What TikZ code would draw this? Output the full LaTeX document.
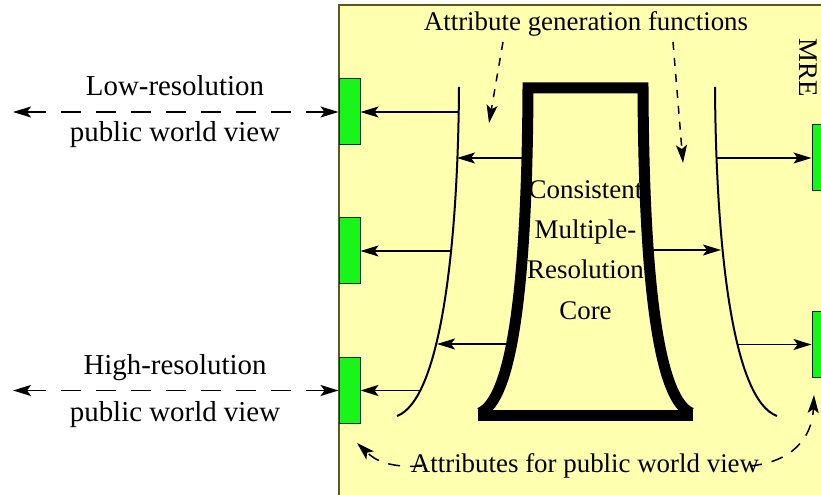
\documentclass[tikz,border=0pt]{standalone}
\usepackage{fontspec}
\setmainfont{Liberation Serif}
\usetikzlibrary{arrows.meta}
\definecolor{mrefill}{RGB}{255,255,176}
\definecolor{mreline}{RGB}{90,90,40}
\definecolor{viewgreen}{RGB}{25,245,25}
\tikzset{
  lbl/.style={font=\fontsize{13.5}{20.3}\selectfont,inner sep=0pt,anchor=base},
  viewlbl/.style={lbl,font=\fontsize{14.5}{17}\selectfont},
  tip/.style={-{Stealth[length=9bp,width=5.5bp,inset=2bp]}},
  viewarr/.style={line width=0.75bp,dash pattern=on 10bp off 7.5bp,
    {Stealth[length=9bp,width=5.5bp,inset=2bp]}-{Stealth[length=9bp,width=5.5bp,inset=2bp]}},
  genarr/.style={tip,line width=0.75bp,dash pattern=on 4bp off 4bp},
  attrarr/.style={tip,line width=0.75bp,dash pattern=on 6bp off 5bp}
}
\begin{document}
\begin{tikzpicture}[x=0.5bp,y=-0.5bp]
  \useasboundingbox (0,0) rectangle (821,495);
  \fill[mrefill,draw=mreline,line width=1bp] (339,5) rectangle (860,520);

  \begin{scope}[every node/.style={draw=black!80!green,fill=viewgreen,line width=0.5bp,
      minimum width=10.5bp,minimum height=33bp,inner sep=0pt}]
  \node (lo) at (349.5,112) {};
  \node (md) at (349.5,251) {};
  \node (hi) at (349.5,390.5) {};
  \node (rlo) at (822.5,158) {};
  \node (rhi) at (822.5,344.5) {};
  \end{scope}

  % generation curves and core
  \draw[line width=1bp] (459,87) .. controls (458,250) and (440,400) .. (397,416);
  \draw[line width=1bp] (715,87) .. controls (716,250) and (733,400) .. (777,416);
  \draw[line width=5.5bp] (480,413) .. controls (510,400) and (527,300) .. (528,88)
    -- (643,88) .. controls (644,300) and (661,400) .. (691,413);
  \draw[line width=5.5bp] (478,415.5) -- (693,415.5);

  \coordinate (cl1) at (459,112);
  \coordinate (cl2) at (450,251);
  \coordinate (cl3) at (420,390.5);
  \coordinate (cl4) at (457,158);
  \coordinate (cl5) at (437,344);
  \coordinate (cr1) at (716,158);
  \coordinate (cr2) at (737,344.5);
  \coordinate (cr3) at (721,250);
  \coordinate (kl1) at (525,158);
  \coordinate (kl2) at (507,344);
  \coordinate (kr1) at (651,250);
  \begin{scope}[every edge/.style={draw=black,line width=0.75bp,tip}]
  \path (cl1) edge (lo);
  \path (cl2) edge (md);
  \path (cl3) edge (hi);
  \path (kl1) edge (cl4);
  \path (kl2) edge (cl5);
  \path (kr1) edge (cr3);
  \path (cr1) edge (rlo);
  \path (cr2) edge (rhi);
  \end{scope}

  % texts
  \node[viewlbl] (lotop) at (175,96) {Low-resolution};
  \node[viewlbl] (lobot) at (175,142) {public world view};
  \node[viewlbl] (hitop) at (175,375) {High-resolution};
  \node[viewlbl] (hibot) at (175,422) {public world view};
  \node[lbl] (agf) at (586,31) {Attribute generation functions};
  \node[lbl,anchor=center,align=center] (core) at (585.5,250) {Consistent\\Multiple-\\Resolution\\Core};
  \node[lbl] (attr) at (585,473) {Attributes for public world view};
  \node[lbl,rotate=-90,anchor=base west] (mre) at (799,38) {MRE};

  % dashed connectors
  \coordinate (lofar) at (13,112);
  \coordinate (hifar) at (13,390.5);
  \draw[viewarr] (lofar) -- (lo);
  \draw[viewarr] (hifar) -- (hi);
  \coordinate (gs1) at (503,42);
  \coordinate (gt1) at (489,123);
  \coordinate (gs2) at (673,42);
  \coordinate (gt2) at (683,163);
  \draw[genarr] (gs1) -- (gt1);
  \draw[genarr] (gs2) -- (gt2);
  \coordinate (as1) at (422,466);
  \coordinate (at1) at (357,443);
  \coordinate (as2) at (750,466);
  \coordinate (at2) at (814,395);
  \draw[attrarr] (as1) .. controls (388,468) and (375,460) .. (at1);
  \draw[attrarr] (as2) .. controls (790,462) and (812,440) .. (at2);
\end{tikzpicture}
\end{document}
